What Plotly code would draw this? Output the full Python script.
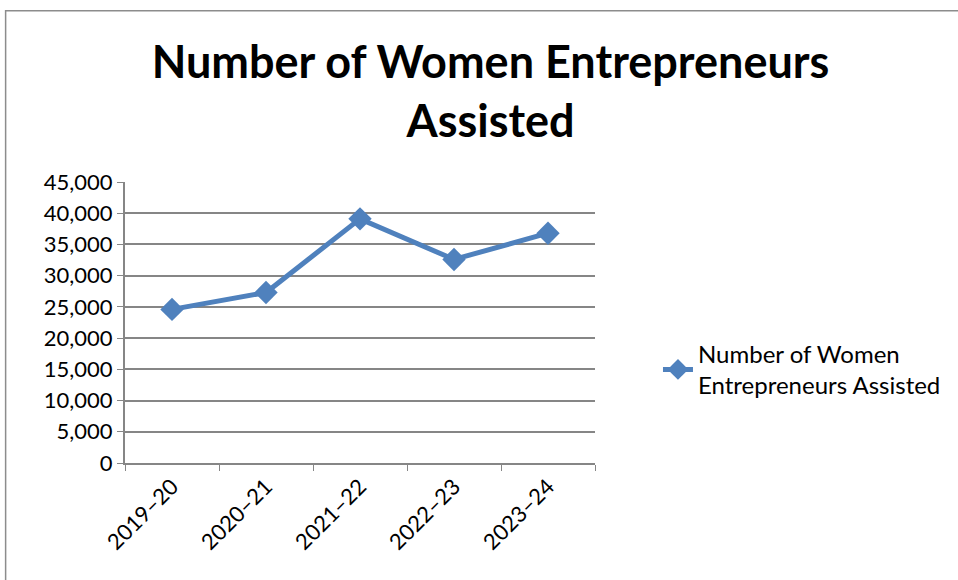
import plotly.graph_objects as go

categories = ["2019–20", "2020–21", "2021–22", "2022–23", "2023–24"]
values = [24600, 27300, 39100, 32600, 36800]
series_name = "Number of Women<br>Entrepreneurs Assisted"
title_text = "Number of Women Entrepreneurs<br>Assisted"

FONT = "Lato, Carlito, Calibri, sans-serif"

fig = go.Figure()
fig.add_trace(go.Scatter(
    x=categories, y=values, mode="lines+markers", name=series_name,
    line=dict(color="#4F81BD", width=5),
    marker=dict(symbol="diamond", size=18, color="#4F81BD"),
))

fig.update_layout(
    width=958, height=580,
    margin=dict(l=125, r=361, t=182, b=117),
    paper_bgcolor="white", plot_bgcolor="white",
    font=dict(family=FONT, size=22, color="black"),
    title=dict(text="<b>" + title_text + "</b>", x=0.512, xanchor="center",
               y=0.865, yanchor="top",
               font=dict(family=FONT, size=45, color="black")),
    showlegend=True,
    legend=dict(x=1.134, y=0.332, xanchor="left", yanchor="middle",
                font=dict(family=FONT, size=24, color="black"),
                bgcolor="rgba(0,0,0,0)"),
    xaxis=dict(type="category", range=[-0.5, 4.5], tickson="boundaries",
               ticks="outside", ticklen=6, tickcolor="#868686",
               showline=True, linecolor="#868686", linewidth=2,
               showgrid=False, tickangle=-45,
               tickfont=dict(family=FONT, size=22, color="black")),
    yaxis=dict(range=[0, 45000], dtick=5000, tickformat=",",
               ticks="outside", ticklen=6, tickcolor="#868686",
               showline=True, linecolor="#868686", linewidth=2,
               showgrid=True, gridcolor="#868686", gridwidth=1.5,
               zeroline=False,
               tickfont=dict(family=FONT, size=22, color="black")),
    shapes=[dict(type="rect", xref="paper", yref="paper",
                 x0=-0.254, x1=2.0, y0=-0.6, y1=1.609,
                 line=dict(color="#8C8C8C", width=1.5), layer="below")],
)

fig.write_html("out.html", config={"displayModeBar": False},
               post_script="document.body.style.margin='0';")
